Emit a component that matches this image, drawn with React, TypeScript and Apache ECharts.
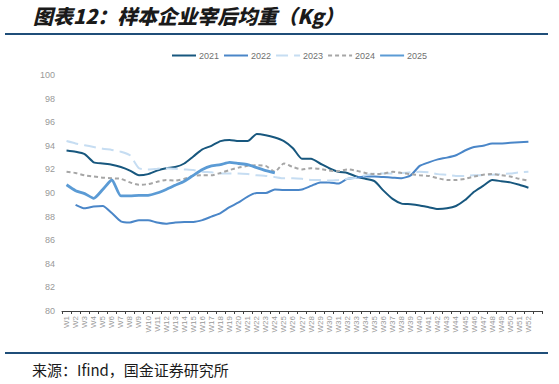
import React, { useEffect, useRef } from "react";
import * as echarts from "echarts";

const weeks: string[] = [
  "W1","W2","W3","W4","W5","W6","W7","W8","W9","W10","W11","W12","W13","W14","W15","W16","W17","W18","W19","W20",
  "W21","W22","W23","W24","W25","W26","W27","W28","W29","W30","W31","W32","W33","W34","W35","W36","W37","W38","W39","W40",
  "W41","W42","W43","W44","W45","W46","W47","W48","W49","W50","W51","W52","",
];

const y2021: (number | null)[] = [
  93.6, 93.5, 93.3, 92.6, 92.5, 92.4, 92.2, 91.9, 91.5, 91.6, 91.9, 92.1, 92.2, 92.5, 93.1, 93.7, 94.0, 94.4, 94.5, 94.4,
  94.4, 95.0, 94.9, 94.7, 94.4, 93.8, 92.9, 92.9, 92.5, 92.1, 91.8, 91.7, 91.4, 91.2, 91.0, 90.2, 89.5, 89.1, 89.05, 88.95,
  88.8, 88.65, 88.7, 88.9, 89.4, 90.1, 90.6, 91.1, 91.0, 90.9, 90.7, 90.45,
];

const y2022: (number | null)[] = [
  null, 89.0, 88.7, 88.85, 88.9, 88.3, 87.6, 87.5, 87.7, 87.7, 87.5, 87.4, 87.5, 87.55, 87.55, 87.7, 88.0, 88.3, 88.8, 89.2,
  89.7, 90.0, 90.0, 90.3, 90.25, 90.25, 90.3, 90.6, 90.9, 90.9, 90.8, 91.2, 91.3, 91.4, 91.4, 91.35, 91.3, 91.25, 91.5, 92.3,
  92.6, 92.85, 93.0, 93.2, 93.6, 93.9, 94.0, 94.2, 94.2, 94.25, 94.3, 94.35,
];

const y2023: (number | null)[] = [
  94.4, 94.2, 94.05, 93.9, 93.75, 93.65, 93.5, 93.2, 92.1, 92.0, 92.05, 92.1, 92.05, 92.0, 91.95, 91.8, 91.75, 91.65, 91.65, 91.65,
  91.6, 91.5, 91.45, 91.35, 91.25, 91.25, 91.2, 91.1, 91.1, 91.05, 91.1, 91.2, 91.3, 91.5, 91.65, 91.65, 91.65, 91.7, 91.75, 91.8,
  91.75, 91.6, 91.55, 91.45, 91.45, 91.5, 91.5, 91.55, 91.6, 91.65, 91.75, 91.8,
];

const y2024: (number | null)[] = [
  91.8, 91.7, 91.5, 91.4, 91.3, 91.25, 91.2, 90.9, 90.7, 90.75, 90.95, 91.1, 91.05, 91.2, 91.45, 91.5, 91.5, 91.7, 91.95, 92.15,
  92.3, 92.35, 92.3, 91.8, 92.5, 92.2, 92.0, 92.1, 92.05, 91.9, 91.85, 92.0, 91.9, 91.7, 91.6, 91.65, 91.8, 91.7, 91.6, 91.5,
  91.45, 91.25, 91.1, 91.1, 91.2, 91.4, 91.55, 91.6, 91.5, 91.4, 91.2, 91.05,
];

const y2025: (number | null)[] = [
  90.7, 90.2, 89.95, 89.55, 90.3, 91.1, 89.75, 89.75, 89.8, 89.8, 90.0, 90.3, 90.65, 91.0, 91.5, 92.0, 92.3, 92.4, 92.6, 92.5,
  92.4, 92.15, 91.9, 91.7,
];

const yTicks: number[] = [80, 82, 84, 86, 88, 90, 92, 94, 96, 98, 100];

const titleText = "图表12：样本企业宰后均重（Kg）";
const sourceText = "来源：Ifind，国金证券研究所";

export default function App() {
  const ref = useRef<HTMLDivElement>(null);

  useEffect(() => {
    if (!ref.current) return;
    const chart = echarts.init(ref.current, undefined, { renderer: "svg" });
    const mk = (name: string, data: (number | null)[], color: string, width: number, type: any) => ({
      name,
      type: "line",
      data,
      symbol: "none",
      smooth: 0.2,
      connectNulls: false,
      lineStyle: { color, width, type },
      itemStyle: { color },
    });
    chart.setOption({
      animation: false,
      backgroundColor: "#ffffff",
      grid: { left: 62, right: 17, top: 75, bottom: 73, containLabel: false },
      legend: {
        left: 166,
        top: 46,
        itemWidth: 24,
        itemHeight: 10,
        itemGap: 4,
        itemStyle: { opacity: 0, borderWidth: 0 },
        textStyle: { color: "#707070", fontSize: 9, fontFamily: "Liberation Sans Narrow, sans-serif", padding: [0, 0, 0, -2] },
        data: ["2021", "2022", "2023", "2024", "2025"],
      },
      xAxis: {
        type: "category",
        data: weeks,
        boundaryGap: true,
        axisLine: { lineStyle: { color: "#404040", width: 1 } },
        axisTick: { show: true, length: 3, lineStyle: { color: "#404040" } },
        axisLabel: { interval: 0, rotate: 90, fontSize: 8, color: "#999999", margin: 5, fontFamily: "Liberation Sans, sans-serif" },
      },
      yAxis: {
        type: "value",
        min: yTicks[0],
        max: yTicks[yTicks.length - 1],
        interval: 2,
        axisLine: { show: false },
        axisTick: { show: false },
        splitLine: { show: false },
        axisLabel: { fontSize: 9, color: "#999999", margin: 7, fontFamily: "Liberation Sans, sans-serif" },
      },
      series: [
        mk("2021", y2021, "#17577e", 2, "solid"),
        mk("2022", y2022, "#4a86c8", 2, "solid"),
        mk("2023", y2023, "#c6ddf2", 2, [12, 6]),
        mk("2024", y2024, "#a6a6a6", 2, [4, 3]),
        mk("2025", y2025, "#5b9bd5", 2.8, "solid"),
      ],
      graphic: [
        {
          type: "text",
          left: 33,
          top: 5,
          style: {
            text: titleText,
            fontSize: 20,
            fontWeight: 900,
            fontStyle: "italic",
            fontFamily: "Noto Sans CJK SC, sans-serif",
            fill: "#1a1a1a",
          },
        },
        { type: "line", shape: { x1: 5, y1: 34, x2: 548, y2: 34 }, style: { stroke: "#1f4e79", lineWidth: 2 } },
        { type: "line", shape: { x1: 5, y1: 353, x2: 548, y2: 353 }, style: { stroke: "#1f4e79", lineWidth: 2 } },
        {
          type: "text",
          left: 32,
          top: 362,
          style: {
            text: sourceText,
            fontSize: 15,
            fontFamily: "Noto Sans CJK SC, sans-serif",
            fill: "#1a1a1a",
          },
        },
      ],
    });
    return () => chart.dispose();
  }, []);

  return (
    <div
      ref={ref}
      style={{ position: "fixed", left: 0, top: 0, width: 559, height: 384, background: "#fff" }}
    />
  );
}
